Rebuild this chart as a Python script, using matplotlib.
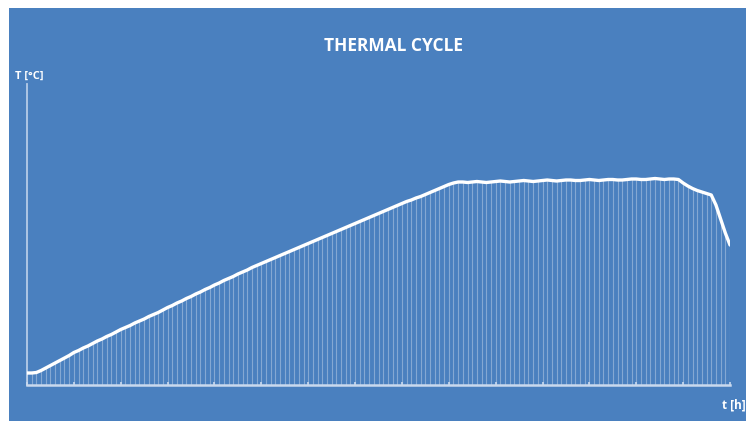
import matplotlib
matplotlib.use("Agg")
import matplotlib.pyplot as plt
from matplotlib.patches import Rectangle
import numpy as np

# ---- data ----
time_h = [round(i * 0.1, 1) for i in range(151)]
temperature = [
    12, 12, 12.5, 14.5, 17, 19.5, 22, 24.5, 27, 29.5,
    32.5, 34.5, 37, 39, 41.5, 44, 46, 48.5, 50.5, 53,
    55.5, 57.5, 59.5, 62, 64, 66, 68.5, 70.5, 72.5, 75,
    77.5, 79.5, 82, 84, 86.5, 88.5, 91, 93, 95.5, 97.5,
    100, 102, 104.5, 106.5, 108.5, 111, 113, 115, 117.5, 119.5,
    121.5, 123.5, 125.5, 127.5, 129.5, 131.5, 133.5, 135.5, 137.5, 139.5,
    141.5, 143.5, 145.5, 147.5, 149.5, 151.5, 153.5, 155.5, 157.5, 159.5,
    161.5, 163.5, 165.5, 167.5, 169.5, 171.5, 173.5, 175.5, 177.5, 179.5,
    181.5, 183.5, 185, 187, 188.5, 190.5, 192.5, 194.5, 196.5, 198.5,
    200.5, 202, 203, 203, 202.5, 203, 203.5, 203, 202.5, 203,
    203.5, 204, 203.5, 203, 203.5, 204, 204.5, 204, 203.5, 204,
    204.5, 205, 204.5, 204, 204.5, 205, 205, 204.5, 204.5, 205,
    205.5, 205, 204.5, 205, 205.5, 205.5, 205, 205, 205.5, 206,
    206, 205.5, 205.5, 206, 206.5, 206, 205.5, 206, 206, 205.5,
    202, 199, 196.5, 194.5, 193, 191.5, 190, 180, 166, 152,
    140,
]
hour_ticks = list(range(16))
title = "THERMAL CYCLE"
y_label = "T [°C]"
x_label = "t [h]"

W, H = 746, 421
fig = plt.figure(figsize=(W / 100, H / 100), dpi=100)
fig.patch.set_facecolor("white")
bg = "#4a80bf"
bgax = fig.add_axes([9 / W, 0, 1 - 9 / W, 1 - 8 / H], zorder=-10)
bgax.set_facecolor(bg)
bgax.set_axis_off()
bgax.add_patch(Rectangle((0, 0), 1, 1, transform=bgax.transAxes,
                         facecolor=bg, edgecolor="none"))

left, right = 27, 730
base, top = 385, 84
ax = fig.add_axes([left / W, (H - base) / H, (right - left) / W, (base - top) / H])
ax.set_facecolor("none")
ax.set_xlim(0, 15)
ax.set_ylim(0, base - top)
for s in ax.spines.values():
    s.set_visible(False)
ax.set_xticks([])
ax.set_yticks([])

axis_col = "#c9d9ee"
ax.plot([0, 0], [0, base - top], color=axis_col, lw=1.3, alpha=0.85,
        clip_on=False, zorder=2)
ax.plot([0, 15], [0, 0], color=axis_col, lw=1.8, clip_on=False, zorder=2)
ax.vlines(hour_ticks, 0, 3, color=axis_col, lw=1.2, clip_on=False, zorder=2)

ax.vlines(time_h, 0, temperature, color="white", alpha=0.32, lw=0.8, zorder=1)
ax.plot(time_h, temperature, color="white", lw=2.4, solid_capstyle="round",
        solid_joinstyle="round", zorder=3)

fig.text(393 / W, 1 - 46 / H, title, color="white", fontsize=12.5,
         fontweight="bold", family="Open Sans", ha="center", va="center")
fig.text(15 / W, 1 - 76 / H, y_label, color="white", fontsize=8,
         fontweight="bold", family="Open Sans", ha="left", va="center")
fig.text(746 / W, 1 - 405 / H, x_label, color="white", fontsize=8.5,
         fontweight="bold", family="Open Sans", ha="right", va="center")

fig.savefig("out.png", dpi=100, facecolor=fig.get_facecolor())
